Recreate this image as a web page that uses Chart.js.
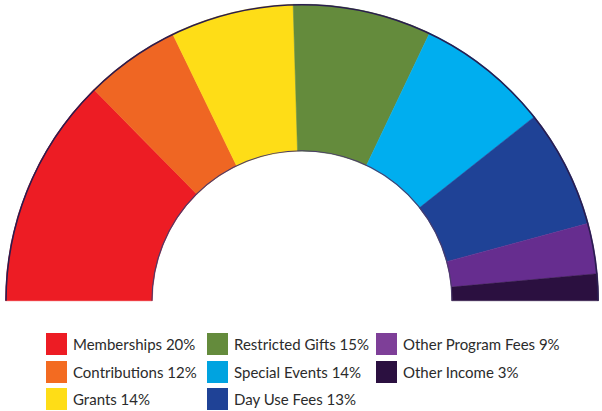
<!DOCTYPE html>
<html>
<head>
<meta charset="utf-8">
<script src="https://cdn.jsdelivr.net/npm/chart.js@4"></script>
<style>
  html, body { margin: 0; padding: 0; background: #fff; }
  #wrap { position: relative; width: 602px; height: 411px; overflow: hidden; }
  #arcChart { position: absolute; left: 0; top: 0; }
  .lg-item { position: absolute; height: 22px; display: flex; align-items: center;
             font-family: Lato, "Open Sans", sans-serif; font-size: 15px; color: #2b2b2b; white-space: nowrap; }
  .lg-sw { width: 21px; height: 22px; margin-right: 6px; flex: none; }
</style>
</head>
<body>
<div id="wrap">
  <canvas id="arcChart" width="602" height="302"></canvas>
  <div id="legend"></div>
</div>
<script>
// ===== Data =====
const categories = ['Memberships', 'Contributions', 'Grants', 'Restricted Gifts',
                    'Special Events', 'Day Use Fees', 'Other Program Fees', 'Other Income'];
const legendPct  = [20, 12, 14, 15, 14, 13, 9, 3];               // as printed in the legend
const arcShare   = [25.2, 10.4, 13.4, 15.1, 14.5, 12.9, 5.5, 2.9]; // slice sizes as drawn in the picture
const arcColors  = ['#ED1C24', '#EF6623', '#FEDD17', '#648B3C', '#00AEEF', '#1F4296', '#662D8F', '#2B1040'];
const swatchColors = ['#ED1C24', '#F36B21', '#FEDD17', '#648B3C', '#00A3E0', '#1F4296', '#7E3F98', '#2B1040'];

// ===== Outline plugin (outer + inner rim) =====
const rimOutline = {
  id: 'rimOutline',
  afterDatasetsDraw(chart) {
    const arc = chart.getDatasetMeta(0).data[0];
    if (!arc) return;
    const { x, y, outerRadius, innerRadius } = arc.getProps(['x', 'y', 'outerRadius', 'innerRadius'], true);
    const ctx = chart.ctx;
    ctx.save();
    ctx.strokeStyle = '#2a1d4f';
    ctx.lineWidth = 1.6;
    ctx.beginPath(); ctx.arc(x, y, outerRadius - 0.5, Math.PI, 2 * Math.PI); ctx.stroke();
    ctx.strokeStyle = '#4a3b6a';
    ctx.lineWidth = 1.1;
    ctx.beginPath(); ctx.arc(x, y, innerRadius + 0.3, Math.PI, 2 * Math.PI); ctx.stroke();
    ctx.restore();
  }
};

new Chart(document.getElementById('arcChart').getContext('2d'), {
  type: 'doughnut',
  data: {
    labels: categories.map((c, i) => `${c} ${legendPct[i]}%`),
    datasets: [{
      data: arcShare,
      backgroundColor: arcColors,
      borderColor: arcColors,
      borderWidth: 0.5
    }]
  },
  options: {
    responsive: false,
    animation: false,
    rotation: -90,
    circumference: 180,
    cutout: '50.5%',
    layout: { padding: { left: 5, right: 3, top: 4, bottom: 1 } },
    plugins: { legend: { display: false }, tooltip: { enabled: false } }
  },
  plugins: [rimOutline]
});

// ===== Legend (3 columns, filled top-down) =====
const colX = [46, 207, 376];
const rowY = [333, 361, 388];
const legend = document.getElementById('legend');
categories.forEach((c, i) => {
  const col = Math.floor(i / 3), row = i % 3;
  const item = document.createElement('div');
  item.className = 'lg-item';
  item.style.left = colX[col] + 'px';
  item.style.top = rowY[row] + 'px';
  item.innerHTML = `<span class="lg-sw" style="background:${swatchColors[i]}"></span>${c} ${legendPct[i]}%`;
  legend.appendChild(item);
});
</script>
</body>
</html>
